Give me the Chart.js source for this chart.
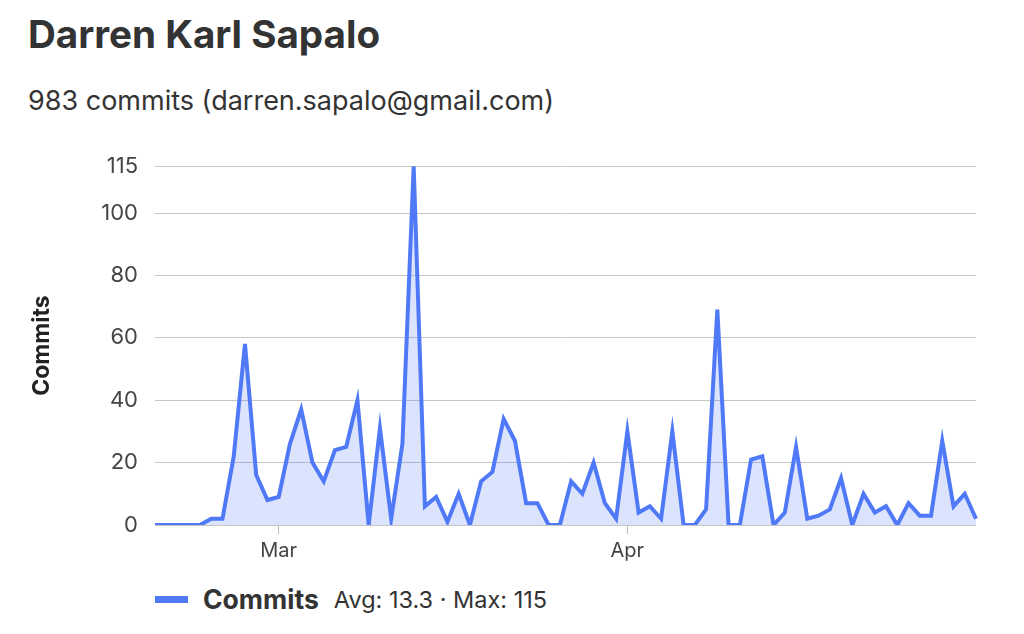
<!DOCTYPE html>
<html>
<head>
<meta charset="utf-8">
<script src="https://cdn.jsdelivr.net/npm/chart.js@4"></script>
<style>
    body { margin: 0; background: #fff; font-family: Inter, "Liberation Sans", Arial, sans-serif; color: #333; }
    h1 { position: absolute; left: 28px; top: 11px; margin: 0; font-size: 38.6px; font-weight: 700; color: #333; }
    .sub { position: absolute; left: 28px; top: 84px; font-size: 27px; color: #333; }
    .wrap { position: absolute; left: 0; top: 136px; width: 1000px; height: 435px; }
    .legend { position: absolute; left: 155px; top: 583px; display: flex; align-items: center; }
    .legend .swatch { width: 33px; height: 7px; background: #5079f7; margin-right: 15px; }
    .legend b { font-size: 26.5px; color: #333; margin-right: 15px; }
    .legend span { font-size: 23.5px; color: #333; }
</style>
</head>
<body>
<h1>Darren Karl Sapalo</h1>
<div class="sub">983 commits (darren.sapalo@gmail.com)</div>
<div class="wrap"><canvas id="commits-chart"></canvas></div>
<div class="legend"><div class="swatch"></div><b>Commits</b><span>Avg: 13.3 · Max: 115</span></div>
<script>
// one point per day, Feb 18 .. May 2
const days = ["Feb 18", "Feb 19", "Feb 20", "Feb 21", "Feb 22", "Feb 23", "Feb 24",
    "Feb 25", "Feb 26", "Feb 27", "Feb 28", "Mar", "Mar 2", "Mar 3", "Mar 4",
    "Mar 5", "Mar 6", "Mar 7", "Mar 8", "Mar 9", "Mar 10", "Mar 11", "Mar 12",
    "Mar 13", "Mar 14", "Mar 15", "Mar 16", "Mar 17", "Mar 18", "Mar 19", "Mar 20",
    "Mar 21", "Mar 22", "Mar 23", "Mar 24", "Mar 25", "Mar 26", "Mar 27", "Mar 28",
    "Mar 29", "Mar 30", "Mar 31", "Apr", "Apr 2", "Apr 3", "Apr 4", "Apr 5",
    "Apr 6", "Apr 7", "Apr 8", "Apr 9", "Apr 10", "Apr 11", "Apr 12", "Apr 13",
    "Apr 14", "Apr 15", "Apr 16", "Apr 17", "Apr 18", "Apr 19", "Apr 20", "Apr 21",
    "Apr 22", "Apr 23", "Apr 24", "Apr 25", "Apr 26", "Apr 27", "Apr 28", "Apr 29",
    "Apr 30", "May 1", "May 2"];
const commits = [0, 0, 0, 0, 0, 2, 2, 22, 58, 16, 8, 9, 26, 37, 20,
    14, 24, 25, 40, 0, 31, 2, 26, 115, 6, 9, 1, 10, 0, 14,
    17, 34, 27, 7, 7, 0, 0, 14, 10, 20, 7, 2, 30, 4, 6,
    2, 30, 0, 0, 5, 69, 0, 0, 21, 22, 0, 4, 25, 2, 3,
    5, 15, 0, 10, 4, 6, 0, 7, 3, 3, 27, 6, 10, 2];
const yTicks = [0, 20, 40, 60, 80, 100, 115];
const monthTicks = ["Mar", "Apr"];

const commitsCanvas = document.getElementById("commits-chart");
let commitsChart = new Chart(commitsCanvas, {
    type: 'line',
    data: {
        labels: days,
        datasets: [{
            label: 'Commits',
            data: commits,
            borderColor: '#5079f7',
            backgroundColor: 'rgba(80, 121, 247, .2)',
            borderWidth: 4,
            fill: true,
            pointRadius: 0,
            tension: 0,
        }]
    },
    options: {
        responsive: true,
        maintainAspectRatio: false,
        animation: false,
        layout: {
            padding: { top: 7, right: 24, left: 0, bottom: 0 }
        },
        scales: {
            x: {
                offset: false,
                afterBuildTicks: (axis) => {
                    axis.ticks = monthTicks.map(m => ({ value: days.indexOf(m) }));
                },
                afterFit: (axis) => { axis.height = 46; },
                ticks: {
                    autoSkip: false,
                    maxRotation: 0,
                    padding: 5,
                    color: '#444',
                    font: { family: 'Inter', size: 20 }
                },
                grid: {
                    drawOnChartArea: false,
                    tickLength: 9,
                    color: '#bbb'
                },
                border: { display: false }
            },
            y: {
                min: 0,
                max: 115,
                afterBuildTicks: (axis) => {
                    axis.ticks = yTicks.map(v => ({ value: v }));
                },
                afterFit: (axis) => { axis.width = 155; },
                ticks: {
                    padding: 17,
                    color: '#444',
                    font: { family: 'Inter', size: 22 }
                },
                grid: {
                    drawTicks: false,
                    color: '#c6c6c6'
                },
                border: { display: false },
                title: {
                    display: true,
                    text: 'Commits',
                    color: '#222',
                    padding: { top: 28, bottom: 0 },
                    font: { family: 'Inter', size: 23, weight: 'bold' }
                }
            }
        },
        plugins: {
            legend: { display: false },
            tooltip: { enabled: false }
        }
    }
});
</script>
</body>
</html>
